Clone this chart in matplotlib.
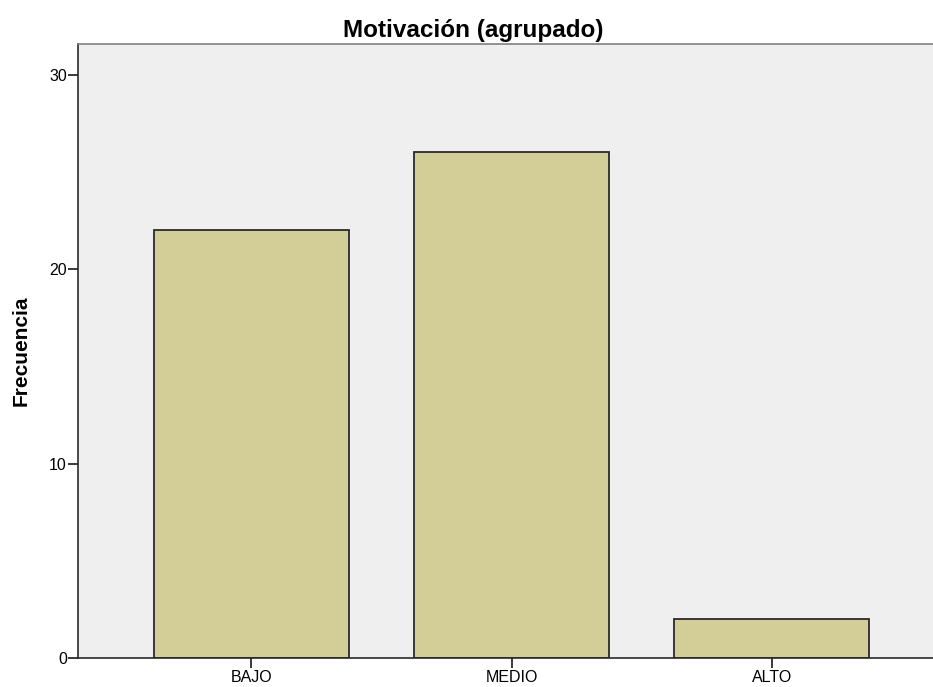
import numpy as np
import matplotlib
matplotlib.use('Agg')
import matplotlib.pyplot as plt

plt.rcParams['font.family'] = ['Liberation Sans', 'DejaVu Sans']

categories = ['BAJO', 'MEDIO', 'ALTO']
frecuencia = [22, 26, 2]
yticks = [0, 10, 20, 30]

fig = plt.figure(figsize=(9.33, 6.87), dpi=100)
ax = fig.add_axes([0.0836, 0.0422, 1.0 - 0.0836, 0.936 - 0.0422])
ax.set_facecolor('#efefef')

x = np.arange(len(categories))
ax.bar(x, frecuencia, width=0.75, color='#d3ce98', edgecolor='#2a2a2a', linewidth=1.3, zorder=2)

ax.set_xlim(-0.667, 2.62)
ax.set_ylim(0, 31.57)
ax.set_xticks(x)
ax.set_xticklabels(categories, fontsize=11.5)
ax.set_yticks(yticks)
ax.set_yticklabels([str(t) for t in yticks], fontsize=11.5)
ax.tick_params(axis='x', direction='out', length=7, width=1.3, color='#2a2a2a', pad=1.5)
ax.tick_params(axis='y', direction='out', length=7.5, width=1.3, color='#2a2a2a', pad=0.5)

for s in ['left', 'bottom', 'top']:
    ax.spines[s].set_color('#2a2a2a')
    ax.spines[s].set_linewidth(1.2)
ax.spines['top'].set_color('#808080')
ax.spines['right'].set_visible(False)

fig.text(473 / 933, 1 - 37 / 687, 'Motivación (agrupado)', fontsize=17.5,
         fontweight='bold', ha='center', va='baseline')
ax.set_ylabel('Frecuencia', fontsize=15, fontweight='bold', va='center')
ax.yaxis.set_label_coords(-0.0667, 0.5)

fig.savefig('out.png', dpi=100)
